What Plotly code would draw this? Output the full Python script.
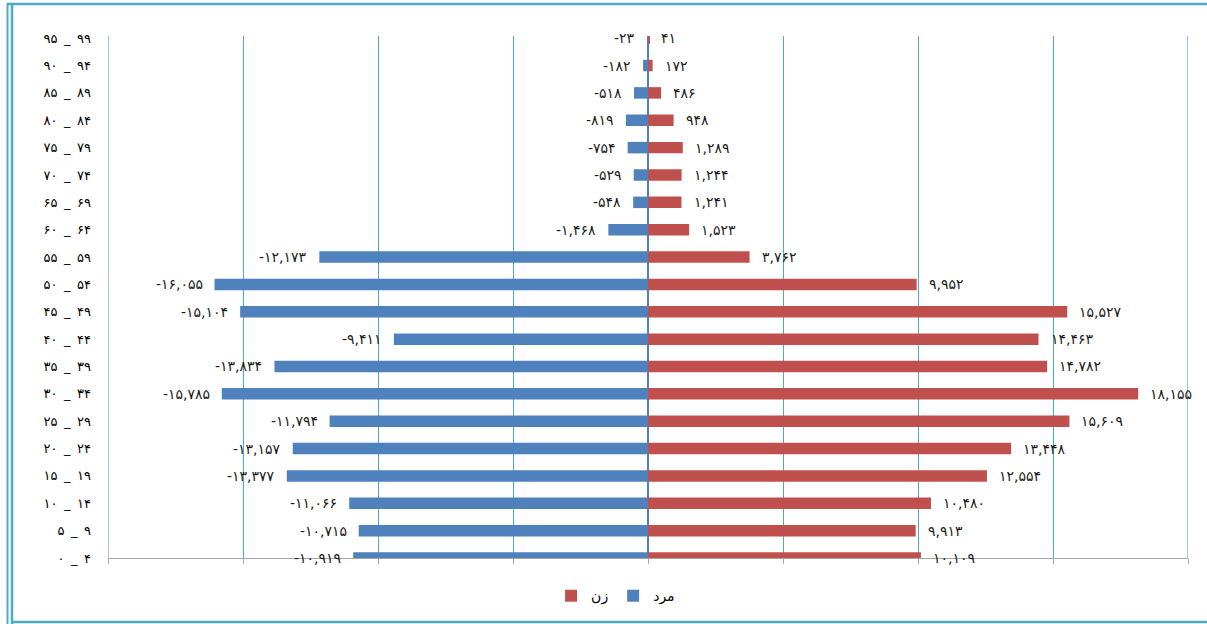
import plotly.graph_objects as go

# Age groups, bottom (youngest) to top (oldest)
AGE_LABELS = ["۰_۴", "۵_۹", "۱۰_۱۴", "۱۵_۱۹", "۲۰_۲۴", "۲۵_۲۹", "۳۰_۳۴", "۳۵_۳۹",
              "۴۰_۴۴", "۴۵_۴۹", "۵۰_۵۴", "۵۵_۵۹", "۶۰_۶۴", "۶۵_۶۹", "۷۰_۷۴",
              "۷۵_۷۹", "۸۰_۸۴", "۸۵_۸۹", "۹۰_۹۴", "۹۵_۹۹"]
MALE = [-10919, -10715, -11066, -13377, -13157, -11794, -15785, -13834, -9411, -15104,
        -16055, -12173, -1468, -548, -529, -754, -819, -518, -182, -23]
FEMALE = [10109, 9913, 10480, 12554, 13448, 15609, 18155, 14782, 14463, 15527,
          9952, 3762, 1523, 1241, 1244, 1289, 948, 486, 172, 41]
MALE_NAME = "مرد"
FEMALE_NAME = "زن"

FA = str.maketrans("0123456789", "۰۱۲۳۴۵۶۷۸۹")


def fa_num(v):
    s = f"{abs(v):,}".translate(FA)
    return ("-" + s) if v < 0 else s


def fa_cat(s):
    return s.replace("_", "\u2002_\u2002")


cats = [fa_cat(c) for c in AGE_LABELS]
FONT = "DejaVu Sans"

fig = go.Figure()
fig.add_trace(go.Bar(y=cats, x=FEMALE, orientation="h", name=FEMALE_NAME,
                     marker=dict(color="#C0504D", line=dict(width=0)), width=0.42))
fig.add_trace(go.Bar(y=cats, x=MALE, orientation="h", name=MALE_NAME,
                     marker=dict(color="#4F81BD", line=dict(width=0)), width=0.42))

annotations = []
for c, m, f in zip(cats, MALE, FEMALE):
    annotations.append(dict(x=m, y=c, xref="x", yref="y", text=fa_num(m), showarrow=False,
                            xanchor="right", yanchor="middle", xshift=-10,
                            font=dict(family=FONT, size=14, color="#1a1a1a")))
    annotations.append(dict(x=f, y=c, xref="x", yref="y", text=fa_num(f), showarrow=False,
                            xanchor="left", yanchor="middle", xshift=10,
                            font=dict(family=FONT, size=14, color="#1a1a1a")))


def px_x(px):
    return (px - 108) / 1080


def px_y(py):
    return (558 - py) / 522


border = "#4BACC6"
shapes = [
    dict(type="line", xref="paper", yref="paper", x0=px_x(7.5), x1=px_x(7.5),
         y0=px_y(3), y1=px_y(624), line=dict(color=border, width=2)),
    dict(type="line", xref="paper", yref="paper", x0=px_x(12), x1=px_x(12),
         y0=px_y(3), y1=px_y(624), line=dict(color=border, width=2.5)),
    dict(type="line", xref="paper", yref="paper", x0=px_x(7), x1=px_x(1207),
         y0=px_y(4), y1=px_y(4), line=dict(color=border, width=2.5)),
    dict(type="line", xref="paper", yref="paper", x0=px_x(11), x1=px_x(1207),
         y0=px_y(622), y1=px_y(622), line=dict(color=border, width=2.5)),
    # outermost gridlines at the ends of the value axis
    dict(type="line", xref="x", yref="paper", x0=-20000, x1=-20000, y0=0, y1=1,
         line=dict(color="#4BACC6", width=1.2), layer="below"),
    dict(type="line", xref="x", yref="paper", x0=20000, x1=20000, y0=0, y1=1,
         line=dict(color="#4BACC6", width=1.2), layer="below"),
]

fig.update_layout(
    width=1207, height=624,
    margin=dict(l=108, r=19, t=36, b=66),
    barmode="relative",
    plot_bgcolor="white", paper_bgcolor="white",
    font=dict(family=FONT, size=13, color="black"),
    showlegend=True,
    legend=dict(orientation="h", x=0.47, xanchor="center", y=-0.073, yanchor="middle",
                font=dict(family=FONT, size=14, color="black"), traceorder="normal",
                itemwidth=30),
    annotations=annotations,
    shapes=shapes,
    xaxis=dict(range=[-20000, 20000], dtick=5000, tick0=0, showticklabels=False,
               showgrid=True, gridcolor="#4BACC6", gridwidth=1,
               zeroline=True, zerolinecolor="#4F81BD", zerolinewidth=1.5,
               showline=True, linecolor="#A6A6A6", linewidth=1.2,
               ticks="outside", ticklen=5, tickcolor="#A6A6A6", fixedrange=True),
    yaxis=dict(type="category", range=[0, 19.08], showgrid=False, zeroline=False,
               showline=False, ticks="", ticklabelstandoff=16,
               tickfont=dict(family=FONT, size=13, color="black")),
)

fig.write_html("out.html")
